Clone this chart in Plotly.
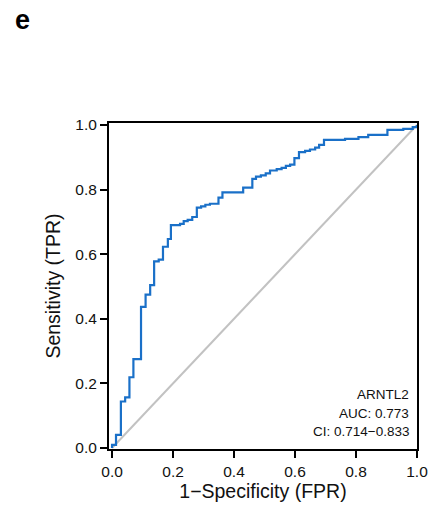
import plotly.graph_objects as go

fpr = [0.0, 0.0, 0.013, 0.029, 0.043, 0.057, 0.070, 0.095, 0.110, 0.125, 0.138,
       0.153, 0.167, 0.183, 0.193, 0.223, 0.235, 0.248, 0.263, 0.278, 0.292,
       0.306, 0.321, 0.349, 0.362, 0.430, 0.460, 0.472, 0.488, 0.504, 0.518,
       0.540, 0.556, 0.570, 0.584, 0.598, 0.613, 0.633, 0.649, 0.666, 0.679,
       0.695, 0.764, 0.808, 0.840, 0.903, 0.955, 0.986, 1.0]
tpr = [0.0, 0.010, 0.041, 0.144, 0.157, 0.219, 0.275, 0.437, 0.475, 0.504, 0.578,
       0.583, 0.623, 0.647, 0.690, 0.694, 0.702, 0.706, 0.715, 0.744, 0.748,
       0.753, 0.756, 0.775, 0.791, 0.806, 0.833, 0.840, 0.844, 0.850, 0.859,
       0.863, 0.867, 0.873, 0.877, 0.897, 0.916, 0.920, 0.924, 0.930, 0.938,
       0.954, 0.957, 0.962, 0.969, 0.985, 0.988, 0.993, 1.0]

ticks = [0.0, 0.2, 0.4, 0.6, 0.8, 1.0]
tick_labels = ["0.0", "0.2", "0.4", "0.6", "0.8", "1.0"]
gene = "ARNTL2"
auc = "0.773"
ci = "0.714\u22120.833"

font_family = "Liberation Sans, Arial, sans-serif"

fig = go.Figure()
fig.add_trace(go.Scatter(x=[0, 1], y=[0, 1], mode="lines",
                         line=dict(color="#c2c2c2", width=2), hoverinfo="skip"))
fig.add_trace(go.Scatter(x=fpr, y=tpr, mode="lines", line_shape="hv",
                         line=dict(color="#1a70c8", width=2.2)))

axis_common = dict(showgrid=False, zeroline=False, showline=True, linecolor="black",
                   linewidth=2, mirror=True, ticks="outside", ticklen=7, tickwidth=2,
                   tickcolor="black", tickvals=ticks, ticktext=tick_labels,
                   automargin=False,
                   tickfont=dict(size=15.5, color="#111111", family=font_family))

fig.update_layout(
    width=432, height=505,
    margin=dict(l=109, r=15, t=123, b=56),
    paper_bgcolor="white", plot_bgcolor="white",
    showlegend=False,
    font=dict(family=font_family, color="#111111"),
    xaxis=dict(range=[-0.01, 1.0], title=dict(text="1\u2212Specificity (FPR)",
               font=dict(size=19.5), standoff=4), **axis_common),
    yaxis=dict(range=[-0.003, 1.006], title=dict(text="Sensitivity (TPR)",
               font=dict(size=19.5), standoff=10), **axis_common),
    annotations=[
        dict(text="<b>e</b>", x=(13 - 109) / 308, y=(505 - 56 - 20) / 326,
             xref="paper", yref="paper",
             showarrow=False, font=dict(size=27, color="black"),
             xanchor="left", yanchor="middle"),
        dict(text=gene, x=0.980, y=0.167, xref="x", yref="y", showarrow=False,
             xanchor="right", yanchor="middle", font=dict(size=13.5)),
        dict(text="AUC: " + auc, x=0.980, y=0.107, xref="x", yref="y", showarrow=False,
             xanchor="right", yanchor="middle", font=dict(size=13.5)),
        dict(text="CI: " + ci, x=0.980, y=0.050, xref="x", yref="y", showarrow=False,
             xanchor="right", yanchor="middle", font=dict(size=13.5)),
    ],
)
fig.write_html("out.html", post_script="document.body.style.margin='0';")
